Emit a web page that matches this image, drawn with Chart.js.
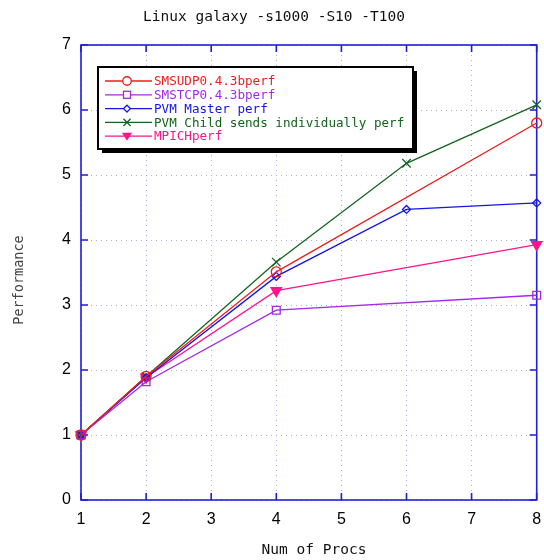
<!DOCTYPE html>
<html>
<head>
<meta charset="utf-8">
<script src="https://cdn.jsdelivr.net/npm/chart.js@4.4.0/dist/chart.umd.min.js"></script>
<style>
  html, body { margin: 0; padding: 0; background: #fff; }
</style>
</head>
<body>
<canvas id="myChart" width="544" height="560"></canvas>
<script>
// number of processes used for each run
const procsShort = [1, 2, 4, 8];
const procsLong = [1, 2, 4, 6, 8];

// performance values
const smsudp = [1, 1.9, 3.51, 5.8];
const smstcp = [1, 1.82, 2.92, 3.15];
const pvmMaster = [1, 1.88, 3.44, 4.47, 4.57];
const pvmChild = [1, 1.9, 3.66, 5.18, 6.08];
const mpich = [1, 1.89, 3.22, 3.93];

const xTicks = [1, 2, 3, 4, 5, 6, 7, 8];
const yTicks = [0, 1, 2, 3, 4, 5, 6, 7];

const monoFont = "'DejaVu Sans Mono', 'Liberation Mono', monospace";

function toPoints(xs, ys) {
  return xs.map((x, i) => ({ x: x, y: ys[i] }));
}

function makeSet(label, xs, ys, color, style, radius, filled, rotation) {
  return {
    label: label,
    data: toPoints(xs, ys),
    borderColor: color,
    backgroundColor: filled ? color : "rgba(0,0,0,0)",
    borderWidth: 1.3,
    pointStyle: style,
    pointRadius: radius,
    pointRotation: rotation || 0,
    pointBorderWidth: 1.3,
    pointBackgroundColor: filled ? color : "rgba(0,0,0,0)",
    clip: false,
  };
}

const datasets = [
  makeSet("SMSUDP0.4.3bperf", procsShort, smsudp, "rgb(235,30,30)", "circle", 5, false),
  makeSet("SMSTCP0.4.3bperf", procsShort, smstcp, "rgb(165,40,230)", "rect", 5.5, false),
  makeSet("PVM Master perf", procsLong, pvmMaster, "rgb(20,20,235)", "rectRot", 4, false),
  makeSet("PVM Child sends individually perf", procsLong, pvmChild, "rgb(20,100,30)", "crossRot", 6, false),
  makeSet("MPICHperf", procsShort, mpich, "rgb(255,20,140)", "triangle", 6, true, 180),
];

function drawMarker(ctx, ds, x, y) {
  const r = ds.pointRadius * 0.85;
  ctx.save();
  ctx.strokeStyle = ds.borderColor;
  ctx.fillStyle = ds.borderColor;
  ctx.lineWidth = 1.3;
  ctx.beginPath();
  if (ds.pointStyle === "circle") {
    ctx.arc(x, y, r, 0, Math.PI * 2);
    ctx.fillStyle = "#fff";
    ctx.fill();
    ctx.stroke();
  } else if (ds.pointStyle === "rect") {
    const h = r * 0.75;
    ctx.fillStyle = "#fff";
    ctx.fillRect(x - h, y - h, 2 * h, 2 * h);
    ctx.strokeRect(x - h, y - h, 2 * h, 2 * h);
  } else if (ds.pointStyle === "rectRot") {
    ctx.moveTo(x, y - r);
    ctx.lineTo(x + r, y);
    ctx.lineTo(x, y + r);
    ctx.lineTo(x - r, y);
    ctx.closePath();
    ctx.fillStyle = "#fff";
    ctx.fill();
    ctx.stroke();
  } else if (ds.pointStyle === "crossRot") {
    const d = r * 0.7;
    ctx.moveTo(x - d, y - d);
    ctx.lineTo(x + d, y + d);
    ctx.moveTo(x + d, y - d);
    ctx.lineTo(x - d, y + d);
    ctx.stroke();
  } else {
    ctx.moveTo(x - r, y - r * 0.7);
    ctx.lineTo(x + r, y - r * 0.7);
    ctx.lineTo(x, y + r * 0.9);
    ctx.closePath();
    ctx.fill();
  }
  ctx.restore();
}

const framePlugin = {
  id: "frame",
  beforeDatasetsDraw(chart) {
    const { ctx, chartArea: a, scales } = chart;
    ctx.save();
    ctx.strokeStyle = "rgb(30,30,220)";
    ctx.lineWidth = 1.6;
    ctx.strokeRect(a.left, a.top, a.right - a.left, a.bottom - a.top);
    ctx.beginPath();
    xTicks.forEach((v) => {
      const px = scales.x.getPixelForValue(v);
      ctx.moveTo(px, a.bottom);
      ctx.lineTo(px, a.bottom - 7);
      ctx.moveTo(px, a.top);
      ctx.lineTo(px, a.top + 7);
    });
    yTicks.forEach((v) => {
      const py = scales.y.getPixelForValue(v);
      ctx.moveTo(a.left, py);
      ctx.lineTo(a.left + 7, py);
      ctx.moveTo(a.right, py);
      ctx.lineTo(a.right - 7, py);
    });
    ctx.stroke();
    ctx.restore();
  },
  afterDraw(chart) {
    const { ctx } = chart;
    ctx.save();
    ctx.fillStyle = "#111";
    ctx.textAlign = "center";
    ctx.textBaseline = "middle";
    ctx.font = "14.5px " + monoFont;
    ctx.fillText("Linux galaxy -s1000 -S10 -T100", 274, 17);
    ctx.fillText("Num of Procs", 314, 550);
    ctx.translate(19, 280);
    ctx.rotate(-Math.PI / 2);
    ctx.fillStyle = "#444";
    ctx.font = "13.5px " + monoFont;
    ctx.fillText("Performance", 0, 0);
    ctx.restore();

    // legend box with drop shadow
    const bx = 98, by = 67, bw = 315, bh = 82;
    ctx.save();
    ctx.fillStyle = "#000";
    ctx.fillRect(bx + 4, by + 4, bw, bh);
    ctx.fillStyle = "#fff";
    ctx.fillRect(bx, by, bw, bh);
    ctx.strokeStyle = "#000";
    ctx.lineWidth = 2;
    ctx.strokeRect(bx, by, bw, bh);
    ctx.font = "12.6px " + monoFont;
    ctx.textBaseline = "middle";
    ctx.textAlign = "left";
    chart.data.datasets.forEach((ds, i) => {
      const y = 81 + i * 13.8;
      ctx.strokeStyle = ds.borderColor;
      ctx.lineWidth = 1.3;
      ctx.beginPath();
      ctx.moveTo(105, y);
      ctx.lineTo(152, y);
      ctx.stroke();
      drawMarker(ctx, ds, 127, y);
      ctx.fillStyle = ds.borderColor;
      ctx.fillText(ds.label, 154, y + 1);
    });
    ctx.restore();
  },
};

const config = {
  type: "line",
  data: { datasets },
  options: {
    responsive: false,
    animation: false,
    layout: { padding: { top: 45, right: 3, left: 0, bottom: 0 } },
    plugins: {
      legend: { display: false },
      title: { display: false },
      tooltip: { enabled: false },
    },
    scales: {
      x: {
        type: "linear",
        min: 1,
        max: 8,
        afterFit: (scale) => {
          scale.height = 60;
          scale.paddingLeft = 0;
          scale.paddingRight = 0;
        },
        ticks: {
          stepSize: 1,
          color: "#000",
          padding: 10,
          font: { family: "'Liberation Sans', Arial, sans-serif", size: 16 },
        },
        grid: { color: "rgba(160,160,235,0.9)", lineWidth: 1, drawTicks: false },
        border: { display: false, dash: [1, 4] },
      },
      y: {
        min: 0,
        max: 7,
        afterFit: (scale) => {
          scale.width = 81;
          scale.paddingTop = 0;
          scale.paddingBottom = 0;
        },
        ticks: {
          stepSize: 1,
          color: "#000",
          padding: 10,
          font: { family: "'Liberation Sans', Arial, sans-serif", size: 16 },
        },
        grid: { color: "rgba(160,160,235,0.9)", lineWidth: 1, drawTicks: false },
        border: { display: false, dash: [1, 4] },
      },
    },
  },
  plugins: [framePlugin],
};

new Chart(document.getElementById("myChart"), config);
</script>
</body>
</html>
